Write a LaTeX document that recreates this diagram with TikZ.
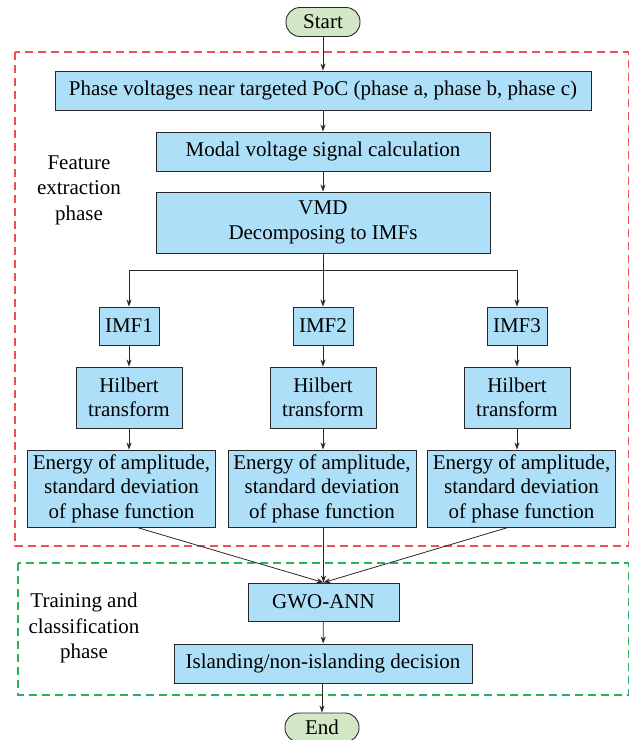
\documentclass[tikz,border=0pt]{standalone}
\usepackage{fontspec}
\setmainfont{Liberation Serif}
\usetikzlibrary{arrows.meta,calc}
\definecolor{boxblue}{RGB}{173,224,248}
\definecolor{pillgreen}{RGB}{210,231,197}
\definecolor{reddash}{RGB}{238,78,84}
\definecolor{greendash}{RGB}{40,178,95}
\definecolor{edgegray}{RGB}{40,40,40}
\tikzset{
  proc/.style={draw=edgegray,line width=0.9pt,fill=boxblue,align=center,inner sep=0pt,
    font=\fontsize{21}{24.5}\selectfont},
  pill/.style={draw=edgegray,line width=0.9pt,fill=pillgreen,rounded corners=14pt,inner sep=0pt,
    minimum width=74pt,minimum height=29pt,font=\fontsize{21}{24.5}\selectfont},
  arr/.style={draw=edgegray,line width=0.8pt,-{Stealth[length=7pt,width=5pt]}},
  ln/.style={draw=edgegray,line width=0.8pt},
  phase/.style={dashed,dash pattern=on 8pt off 5pt,line width=1.1pt},
  lbl/.style={align=center,inner sep=0pt,font=\fontsize{21}{25.5}\selectfont}
}
\begin{document}
\begin{tikzpicture}[x=1pt,y=-1pt]
\useasboundingbox (0,0) rectangle (630,740);
% phase frames
\draw[phase,draw=reddash] (15,52) rectangle (628.5,546);
\draw[phase,draw=greendash] (18,563) rectangle (628.5,695);
% labels
\node[lbl] (featlbl) at (79,190) {Feature\\extraction\\phase};
\node[lbl] (trainlbl) at (84,628) {Training and\\classification\\phase};
% nodes
\node[pill] (start) at (323,22) {Start};
\node[proc,minimum width=536pt,minimum height=39pt] (b1) at (323,90.5) {Phase voltages near targeted PoC (phase a, phase b, phase c)};
\node[proc,minimum width=334pt,minimum height=39pt] (b2) at (323,151.5) {Modal voltage signal calculation};
\node[proc,minimum width=334pt,minimum height=61pt] (vmd) at (323,222.5) {VMD\\Decomposing to IMFs};
\foreach \i/\x/\ex in {1/129/121.5,2/323/322,3/517/521.5}{
  \node[proc,minimum width=60pt,minimum height=38pt] (imf\i) at (\x,326) {IMF\i};
  \node[proc,minimum width=106pt,minimum height=61pt] (hil\i) at (\x,397.5) {Hilbert\\transform};
  \node[proc,minimum width=188pt,minimum height=77pt] (en\i) at (\ex,488.5) {Energy of amplitude,\\standard deviation\\of phase function};
}
\node[proc,minimum width=151pt,minimum height=38pt] (gwo) at (323.5,602) {GWO-ANN};
\node[proc,minimum width=298pt,minimum height=39pt] (isl) at (323,663.5) {Islanding/non-islanding decision};
\node[pill] (end) at (322,727.5) {End};
% connectors
\coordinate (split) at (323,270);
\draw[arr] (start) -- (b1);
\draw[arr] (b1) -- (b2);
\draw[arr] (b2) -- (vmd);
\draw[ln] (vmd.south) -- (split);
\draw[ln] (imf1 |- split) -- (imf3 |- split);
\draw[arr] (imf1 |- split) -- (imf1.north);
\draw[arr] (split) -- (imf2.north);
\draw[arr] (imf3 |- split) -- (imf3.north);
\foreach \i in {1,2,3}{
  \draw[arr] (imf\i) -- (hil\i);
  \draw[arr] (hil\i.south) -- (hil\i.south |- en\i.north);
}
\draw[arr] ([xshift=15.5pt]en1.south) -- (gwo.north);
\draw[arr] (en2.south -| gwo.north) -- (gwo.north);
\draw[arr] ([xshift=-13.5pt]en3.south) -- (gwo.north);
\draw[arr] (gwo) -- (isl);
\draw[arr] (isl.south -| end.north) -- (end.north);
\end{tikzpicture}
\end{document}
